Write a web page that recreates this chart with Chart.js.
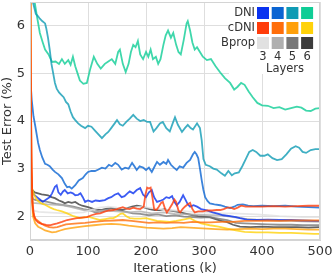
<!DOCTYPE html>
<html>
<head>
<meta charset="utf-8">
<script src="https://cdn.jsdelivr.net/npm/chart.js@4.4.1/dist/chart.umd.min.js"></script>
<style>
  body { margin: 0; background: #fff; }
  #wrap { width: 332px; height: 276px; }
</style>
</head>
<body>
<div id="wrap"><canvas id="errChart" width="332" height="276"></canvas></div>
<script>
// [iterations (k), test error (%)]
const dni3 = [[0,3.4],[3,2.55],[7,2.45],[12,2.4],[17,2.35],[22,2.3],[28,2.35],[34,2.4],[38,2.48],[43,2.62],[46,2.65],[49,2.5],[53,2.45],[57,2.52],[60,2.55],[65,2.48],[70,2.5],[74,2.48],[78,2.44],[83,2.45],[87,2.48],[91,2.4],[95,2.3],[100,2.33],[107,2.3],[113,2.33],[120,2.32],[129,2.34],[135,2.38],[140,2.4],[146,2.45],[152,2.48],[158,2.4],[163,2.42],[168,2.48],[172,2.52],[178,2.48],[184,2.55],[190,2.59],[195,2.45],[200,2.4],[205,2.5],[210,2.55],[214,2.4],[219,2.3],[224,2.32],[230,2.35],[235,2.4],[240,2.38],[245,2.42],[249,2.3],[253,2.23],[258,2.3],[264,2.44],[268,2.35],[272,2.25],[276,2.2],[282,2.23],[288,2.2],[295,2.15],[305,2.12],[315,2.08],[325,2.05],[333,2.02],[345,2.0],[355,1.98],[362,1.96],[374,1.93],[390,1.92],[410,1.93],[430,1.92],[450,1.92],[470,1.91],[490,1.9],[500,1.9]];
const dni4 = [[0,5.0],[3,4.44],[6,4.1],[9,3.9],[14,3.54],[17,3.39],[21,3.24],[26,3.1],[30,3.08],[34,3.05],[39,2.98],[43,2.93],[49,2.88],[55,2.8],[60,2.68],[64,2.61],[68,2.62],[72,2.58],[78,2.65],[84,2.75],[91,2.8],[96,2.88],[100,2.93],[106,2.95],[112,2.95],[118,2.98],[124,3.02],[130,3.0],[136,3.08],[141,3.05],[147,3.12],[152,3.08],[158,2.98],[164,3.02],[170,3.0],[176,3.12],[180,3.05],[184,2.97],[189,3.05],[195,3.02],[200,2.97],[205,3.02],[210,2.93],[215,3.05],[219,3.14],[224,3.08],[230,3.14],[235,3.1],[238,3.18],[243,3.08],[248,3.02],[253,2.97],[258,3.05],[264,3.02],[270,3.12],[276,3.18],[281,3.3],[284,3.35],[287,3.3],[290,3.22],[293,3.0],[296,2.76],[299,2.55],[302,2.4],[306,2.32],[310,2.27],[318,2.25],[328,2.23],[336,2.2],[345,2.17],[352,2.2],[358,2.24],[367,2.25],[376,2.22],[385,2.21],[400,2.22],[420,2.21],[440,2.22],[460,2.2],[480,2.19],[500,2.18]];
const dni5 = [[0,7.5],[5,6.5],[10,6.25],[14,6.2],[17,6.15],[21,6.1],[26,6.05],[28,5.95],[31,5.75],[34,5.5],[37,5.2],[40,5.0],[43,4.8],[46,4.68],[50,4.6],[54,4.55],[58,4.5],[62,4.4],[66,4.35],[70,4.2],[74,4.08],[78,4.02],[83,3.95],[88,3.9],[95,3.85],[100,3.9],[106,3.88],[112,3.8],[118,3.72],[124,3.64],[130,3.72],[135,3.77],[140,3.85],[146,3.95],[150,4.02],[155,3.93],[160,3.9],[166,3.98],[172,4.05],[178,4.13],[184,4.05],[190,4.0],[196,4.02],[202,3.98],[207,3.98],[213,3.78],[218,3.85],[224,3.95],[229,3.98],[235,3.85],[241,3.78],[246,3.95],[250,4.08],[255,3.92],[262,3.77],[267,3.85],[272,3.92],[277,3.85],[281,3.82],[288,3.95],[293,3.85],[296,3.6],[299,3.2],[303,3.08],[310,3.05],[316,3.0],[322,2.98],[330,2.9],[336,2.85],[342,2.95],[348,2.86],[353,2.9],[360,2.92],[366,3.05],[372,3.2],[378,3.35],[384,3.39],[390,3.35],[397,3.27],[404,3.27],[410,3.3],[418,3.22],[426,3.18],[434,3.2],[442,3.3],[450,3.42],[458,3.47],[464,3.44],[470,3.35],[476,3.33],[484,3.39],[492,3.41],[500,3.41]];
const dni6 = [[0,7.5],[8,6.5],[12,6.2],[17,5.85],[22,5.65],[26,5.5],[32,5.4],[38,5.24],[44,5.25],[50,5.2],[55,5.3],[60,5.2],[66,5.28],[70,5.18],[74,5.35],[78,5.15],[82,5.0],[86,4.85],[92,4.78],[98,4.8],[104,5.1],[110,5.35],[116,5.2],[122,5.1],[129,5.2],[135,5.25],[141,5.3],[147,5.2],[152,5.45],[155,5.5],[160,5.2],[165,5.03],[170,5.2],[174,5.45],[178,5.6],[182,5.55],[186,5.68],[190,5.4],[195,5.3],[200,5.45],[204,5.35],[208,5.5],[212,5.3],[217,5.35],[221,5.2],[225,5.3],[230,5.6],[234,5.8],[238,5.9],[243,5.75],[247,5.85],[252,5.6],[256,5.45],[260,5.4],[265,5.7],[270,6.05],[272,6.1],[276,5.9],[280,5.65],[284,5.5],[288,5.55],[293,5.45],[298,5.35],[305,5.28],[312,5.3],[320,5.15],[328,5.02],[336,4.9],[345,4.8],[352,4.66],[358,4.72],[364,4.8],[370,4.76],[377,4.62],[384,4.5],[392,4.38],[400,4.33],[410,4.32],[420,4.27],[430,4.29],[440,4.24],[450,4.27],[460,4.3],[468,4.28],[476,4.22],[484,4.21],[492,4.26],[500,4.27]];

const cdni3 = [[0,8],[2,4],[4,2.3],[7,2.0],[10,1.92],[14,1.87],[20,1.84],[28,1.82],[34,1.81],[40,1.83],[47,1.85],[55,1.88],[64,1.92],[72,1.94],[81,1.96],[90,1.97],[98,1.98],[106,2.02],[114,2.05],[121,2.06],[130,2.1],[137,2.12],[144,2.13],[150,2.15],[155,2.17],[160,2.19],[166,2.16],[172,2.15],[178,2.18],[184,2.16],[190,2.15],[196,2.2],[199,2.45],[202,2.6],[205,2.58],[208,2.6],[211,2.4],[214,2.15],[218,2.13],[222,2.2],[226,2.28],[229,2.3],[233,2.15],[236,2.08],[240,2.15],[245,2.25],[249,2.35],[252,2.3],[256,2.12],[259,2.08],[263,2.15],[267,2.2],[272,2.25],[276,2.28],[280,2.15],[284,2.08],[290,2.1],[298,2.1],[306,2.12],[314,2.12],[322,2.13],[328,2.13],[334,2.15],[340,2.18],[346,2.18],[352,2.15],[358,2.18],[364,2.22],[372,2.2],[385,2.2],[400,2.2],[420,2.21],[440,2.2],[460,2.21],[480,2.22],[500,2.22]];
const cdni4 = [[0,8],[2,3],[5,2.1],[9,1.95],[14,1.9],[20,1.84],[26,1.8],[33,1.77],[40,1.76],[47,1.77],[55,1.8],[62,1.83],[72,1.84],[82,1.85],[95,1.86],[110,1.88],[129,1.9],[145,1.91],[160,1.92],[175,1.9],[190,1.88],[205,1.86],[220,1.87],[235,1.86],[250,1.87],[265,1.86],[280,1.88],[295,1.87],[310,1.87],[330,1.88],[350,1.88],[370,1.9],[390,1.9],[410,1.91],[430,1.9],[450,1.91],[470,1.91],[500,1.91]];
const cdni5 = [[0,8],[2,3],[5,2.0],[9,1.85],[14,1.78],[20,1.74],[26,1.7],[32,1.68],[38,1.66],[45,1.67],[52,1.7],[60,1.73],[70,1.75],[82,1.77],[95,1.79],[110,1.81],[125,1.83],[140,1.84],[155,1.83],[170,1.8],[185,1.78],[200,1.76],[215,1.75],[230,1.74],[245,1.75],[260,1.77],[275,1.76],[290,1.75],[305,1.74],[320,1.73],[340,1.72],[360,1.73],[380,1.74],[400,1.73],[420,1.74],[440,1.74],[460,1.73],[480,1.72],[500,1.72]];
const cdni6 = [[0,9],[1,5],[3,2.61],[7,2.45],[12,2.34],[18,2.28],[24,2.25],[29,2.22],[35,2.18],[41,2.15],[46,2.13],[55,2.1],[64,2.06],[75,2.0],[86,1.96],[95,1.98],[103,1.98],[112,1.95],[121,1.92],[130,1.94],[138,1.96],[144,1.96],[150,2.0],[156,2.05],[160,2.06],[166,2.0],[172,1.96],[180,1.95],[190,1.95],[200,1.96],[210,1.93],[219,1.9],[230,1.89],[241,1.88],[252,1.9],[264,1.93],[276,1.96],[285,1.9],[295,1.85],[310,1.81],[325,1.78],[340,1.74],[355,1.7],[370,1.67],[390,1.66],[410,1.66],[430,1.65],[450,1.65],[470,1.64],[490,1.63],[500,1.63]];

const bprop3 = [[0,4],[2,2.3],[5,2.12],[15,2.09],[30,2.08],[45,2.07],[58,2.06],[75,2.07],[92,2.08],[108,2.14],[120,2.18],[135,2.2],[150,2.18],[170,2.16],[190,2.2],[210,2.17],[230,2.14],[250,2.12],[270,2.1],[290,2.08],[310,2.07],[330,2.06],[350,2.06],[370,2.05],[390,2.04],[410,2.02],[430,2.0],[450,1.99],[470,1.98],[500,1.98]];
const bprop4 = [[0,4],[2,2.4],[5,2.28],[15,2.27],[30,2.25],[45,2.24],[58,2.23],[75,2.18],[92,2.13],[110,2.1],[130,2.12],[150,2.1],[170,2.08],[190,2.1],[210,2.06],[230,2.08],[250,2.05],[270,2.04],[290,2.03],[310,2.02],[330,2.02],[350,1.98],[370,1.95],[390,1.93],[410,1.92],[430,1.9],[450,1.9],[470,1.89],[500,1.88]];
const bprop5 = [[0,4],[2,2.5],[5,2.36],[10,2.34],[20,2.32],[30,2.3],[45,2.26],[60,2.23],[75,2.2],[92,2.15],[105,2.12],[112,2.08],[125,2.1],[140,2.17],[155,2.12],[170,2.08],[177,2.06],[190,2.05],[205,2.02],[220,2.04],[235,2.0],[250,2.02],[265,1.99],[280,1.98],[295,1.97],[310,1.98],[325,1.95],[340,1.92],[355,1.86],[370,1.85],[390,1.84],[410,1.83],[430,1.82],[450,1.82],[470,1.81],[500,1.81]];
const bprop6 = [[0,4.5],[2,2.7],[4,2.55],[8,2.5],[14,2.48],[20,2.46],[26,2.45],[31,2.44],[37,2.4],[43,2.38],[50,2.33],[56,2.3],[60,2.27],[66,2.3],[72,2.28],[78,2.3],[84,2.25],[90,2.22],[100,2.19],[108,2.16],[117,2.13],[125,2.14],[133,2.16],[141,2.17],[150,2.14],[159,2.13],[168,2.17],[176,2.2],[184,2.22],[190,2.21],[198,2.18],[206,2.15],[215,2.13],[224,2.13],[232,2.15],[240,2.12],[250,2.1],[260,2.08],[270,2.05],[281,2.02],[290,2.0],[300,1.99],[310,1.98],[320,1.94],[330,1.9],[339,1.88],[350,1.82],[362,1.78],[380,1.77],[400,1.78],[420,1.77],[440,1.77],[460,1.77],[480,1.76],[500,1.77]];

const layerLabels = ['3', '4', '5', '6'];
const methodLabels = ['DNI', 'cDNI', 'Bprop'];
const yTicks = [2, 3, 4, 5, 6];
const xTicks = [0, 100, 200, 300, 400, 500];

const dniColors = ['#0a32f0', '#0a64d2', '#0f9bb4', '#0fcd96'];
const cdniColors = ['#ff3c0a', '#ff6e0a', '#ffa00a', '#ffd20a'];
const bpropColors = ['#e1e1e1', '#afafaf', '#787878', '#3c3c3c'];

function fade(hex, a) {
    const n = parseInt(hex.slice(1), 16);
    return `rgba(${n >> 16}, ${(n >> 8) & 255}, ${n & 255}, ${a})`;
}

function makeSet(name, pts, color) {
    return {
        label: name,
        data: pts.map(p => ({ x: p[0], y: p[1] })),
        borderColor: fade(color, 0.8),
        borderWidth: 1.8,
        pointRadius: 0,
        fill: false,
        tension: 0
    };
}

// first dataset ends up drawn on top
const datasets = [
    makeSet('cDNI 3', cdni3, cdniColors[0]),
    makeSet('cDNI 4', cdni4, cdniColors[1]),
    makeSet('cDNI 5', cdni5, cdniColors[2]),
    makeSet('cDNI 6', cdni6, cdniColors[3]),
    makeSet('DNI 3', dni3, dniColors[0]),
    makeSet('DNI 4', dni4, dniColors[1]),
    makeSet('DNI 5', dni5, dniColors[2]),
    makeSet('DNI 6', dni6, dniColors[3]),
    makeSet('Bprop 3', bprop3, bpropColors[0]),
    makeSet('Bprop 4', bprop4, bpropColors[1]),
    makeSet('Bprop 5', bprop5, bpropColors[2]),
    makeSet('Bprop 6', bprop6, bpropColors[3])
];

// frame round the plot + the colour grid legend in the top right
const framePlugin = {
    id: 'frame',
    afterDatasetsDraw(chart) {
        const ctx = chart.ctx;
        const a = chart.chartArea;
        ctx.save();

        // legend block
        ctx.fillStyle = '#ffffff';
        ctx.fillRect(229, a.top + 1, a.right - 230, 71);
        const rows = [dniColors, cdniColors, bpropColors];
        rows.forEach((cols, r) => {
            cols.forEach((c, i) => {
                ctx.fillStyle = c;
                ctx.fillRect(257 + i * 14.7, 7 + r * 15, 12, 12);
            });
        });
        ctx.fillStyle = '#333333';
        ctx.font = '11.5px "DejaVu Sans"';
        ctx.textAlign = 'right';
        ctx.textBaseline = 'middle';
        methodLabels.forEach((t, r) => ctx.fillText(t, 255, 13.5 + r * 15));
        ctx.textAlign = 'center';
        layerLabels.forEach((t, i) => ctx.fillText(t, 263 + i * 14.7, 57.5));
        ctx.fillText('Layers', 285, 69);

        ctx.strokeStyle = '#d4d4d4';
        ctx.lineWidth = 1;
        ctx.strokeRect(a.left + 0.5, a.top + 0.5, a.right - a.left - 1, a.bottom - a.top - 1);
        ctx.restore();
    }
};

// drop the label overhang padding so the plot box spans the full height
function noOverhang(s) {
    s.paddingTop = 0;
    s.paddingBottom = 0;
    s.paddingLeft = 0;
    s.paddingRight = 0;
}

new Chart(document.getElementById('errChart').getContext('2d'), {
    type: 'line',
    data: { datasets: datasets },
    options: {
        responsive: false,
        animation: false,
        devicePixelRatio: 1,
        layout: { padding: { left: 0, right: 12, top: 2, bottom: 0 } },
        plugins: {
            legend: { display: false },
            tooltip: { enabled: false }
        },
        scales: {
            x: {
                type: 'linear',
                min: 0,
                max: 500,
                afterBuildTicks: s => { s.ticks = xTicks.map(v => ({ value: v })); },
                afterFit: s => { s.height = 36; noOverhang(s); },
                grid: { color: '#dedede', drawTicks: false },
                border: { color: '#d4d4d4' },
                ticks: { padding: 4, color: '#333', font: { family: 'DejaVu Sans', size: 13 } },
                title: {
                    display: true,
                    text: 'Iterations (k)',
                    color: '#333',
                    padding: 0,
                    font: { family: 'DejaVu Sans', size: 13 }
                }
            },
            y: {
                type: 'linear',
                min: 1.5,
                max: 6.5,
                afterBuildTicks: s => { s.ticks = yTicks.map(v => ({ value: v })); },
                afterFit: s => { s.width = 30; noOverhang(s); },
                grid: { color: '#dedede', drawTicks: false },
                border: { color: '#d4d4d4' },
                ticks: { padding: 5, color: '#333', font: { family: 'DejaVu Sans', size: 13 } },
                title: {
                    display: true,
                    text: 'Test Error (%)',
                    color: '#333',
                    padding: 0,
                    font: { family: 'DejaVu Sans', size: 13 }
                }
            }
        }
    },
    plugins: [framePlugin]
});
</script>
</body>
</html>
